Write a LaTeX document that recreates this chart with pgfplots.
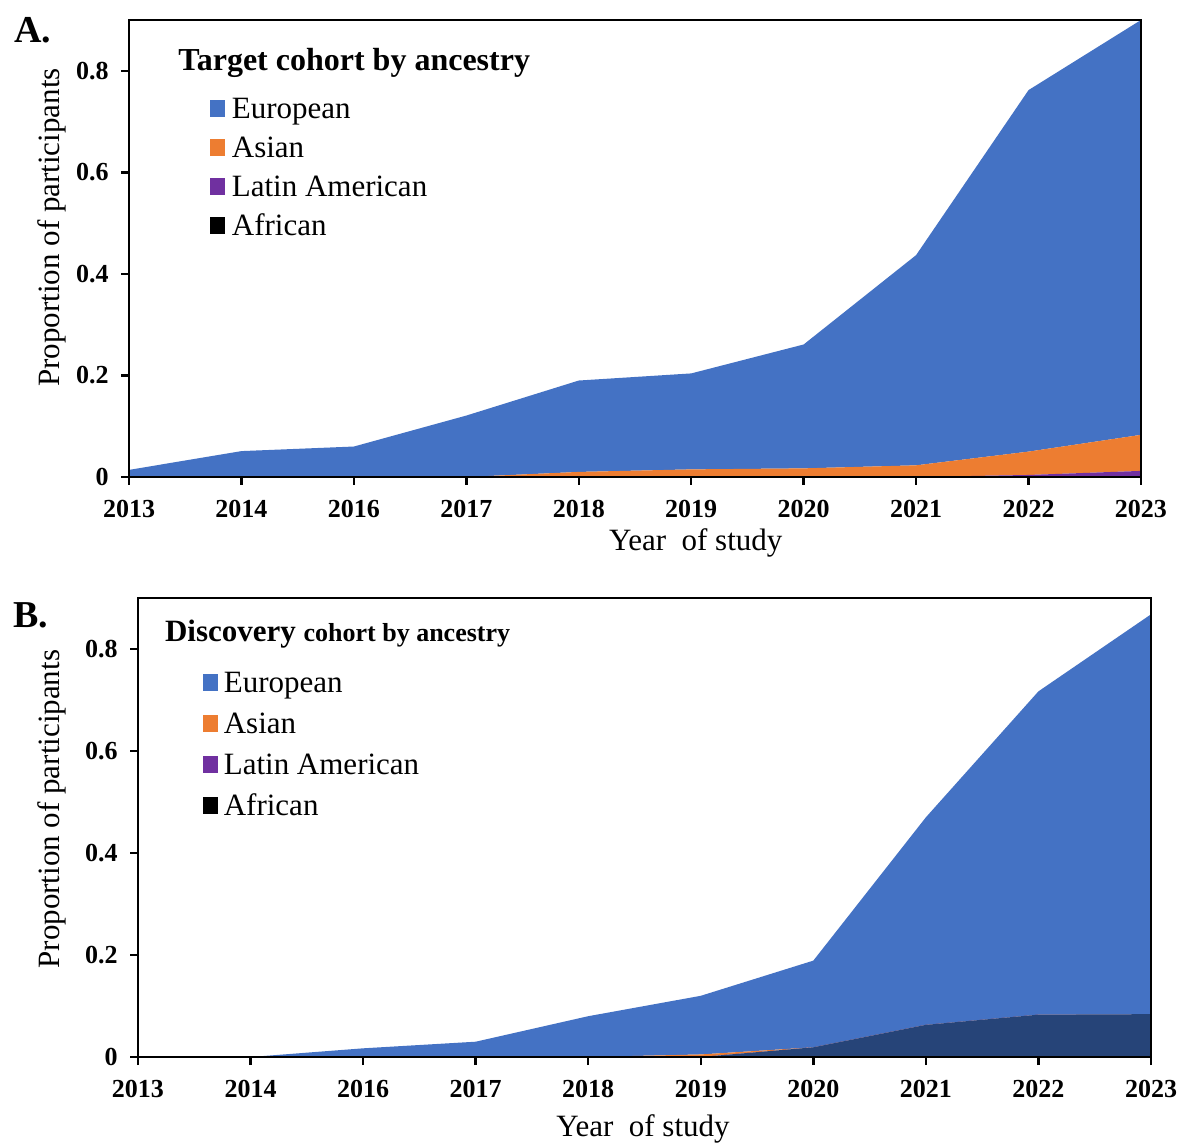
\documentclass[border=0pt]{standalone}
\usepackage{graphicx}
\usepackage{pgfplots}
\pgfplotsset{compat=1.18}
\usepackage{pgfplotstable}
\usepackage{fontspec}
\setmainfont{Liberation Serif}
\definecolor{eur}{HTML}{4472C4}
\definecolor{asi}{HTML}{ED7D31}
\definecolor{lat}{HTML}{7030A0}
\definecolor{afr}{HTML}{000000}
\definecolor{afrB}{HTML}{264478}

% Panel A: target cohort (individual layer values, stacked)
\pgfplotstableread{
x eur asi lat afr
0 0.014 0     0     0
1 0.051 0     0     0
2 0.060 0     0     0
3 0.121 0     0     0
4 0.180 0.010 0     0
5 0.189 0.015 0     0
6 0.244 0.017 0     0
7 0.414 0.023 0     0
8 0.712 0.046 0.004 0
9 0.817 0.071 0.012 0
}\dataA

% Panel B: discovery cohort
\pgfplotstableread{
x eur asi lat afr
0 0     0     0 0
1 0     0     0 0
2 0.017 0     0 0
3 0.030 0     0 0
4 0.080 0     0 0
5 0.115 0.005 0 0
6 0.170 0     0 0.019
7 0.407 0     0 0.063
8 0.634 0     0 0.083
9 0.784 0     0 0.084
}\dataB

\pgfplotsset{
  mystyle/.style={
    scale only axis, xmin=0, xmax=9, ymin=0, ymax=0.9,
    xtick={0,1,2,3,4,5,6,7,8,9},
    xticklabels={2013,2014,2016,2017,2018,2019,2020,2021,2022,2023},
    ytick={0,0.2,0.4,0.6,0.8}, yticklabels={0,0.2,0.4,0.6,0.8},
    tick align=outside, major tick length=4pt, xtick pos=bottom, ytick pos=left,
    axis line style={line width=1.2pt, black},
    every tick/.style={black, line width=1.2pt},
    /pgf/number format/assume math mode=true,
    ticklabel style={font=\fontsize{13}{13}\selectfont\bfseries},
    yticklabel style={xshift=-2.7pt},
    xticklabel style={yshift=-4.2pt},
    label style={font=\fontsize{15.5}{15.5}\selectfont},
    stack plots=y, axis on top,
    legend cell align=left,
    legend image code/.code={\fill[##1] (0pt,-2.4pt) rectangle (7.5pt,5.8pt);},
  }
}

\begin{document}
\begin{tikzpicture}
\path[use as bounding box] (0,0) rectangle (589.5pt,571pt);

% ---------------- Panel A ----------------
\begin{axis}[mystyle,
  at={(64.5pt,332.5pt)}, anchor=south west, width=506pt, height=228.5pt,
  xlabel={Year\ \ of study}, ylabel={Proportion of participants},
  xlabel style={at={(axis description cs:0.560,-0.1116)}, anchor=north, inner sep=0pt},
  ylabel style={at={(axis description cs:-0.076,0.546)}, anchor=center, inner sep=0pt},
  legend style={draw=none, fill=none, at={(axis description cs:0.0805,0.8316)}, anchor=north west,
    inner sep=0pt, outer sep=0pt, row sep=4.5pt, font=\fontsize{15.5}{15.5}\selectfont,
    nodes={inner sep=0pt, text height=11pt, text depth=4pt},
    /tikz/every odd column/.append style={column sep=3.2pt}},
]
\addplot[fill=afr, draw=none, forget plot] table[x=x,y=afr]{\dataA} \closedcycle;
\addplot[fill=lat, draw=none, forget plot] table[x=x,y=lat]{\dataA} \closedcycle;
\addplot[fill=asi, draw=none, forget plot] table[x=x,y=asi]{\dataA} \closedcycle;
\addplot[fill=eur, draw=none, forget plot] table[x=x,y=eur]{\dataA} \closedcycle;
\addlegendimage{fill=eur, draw=none}\addlegendentry{European}
\addlegendimage{fill=asi, draw=none}\addlegendentry{Asian}
\addlegendimage{fill=lat, draw=none}\addlegendentry{Latin American}
\addlegendimage{fill=afr, draw=none}\addlegendentry{African}
\node[anchor=base west, inner sep=0pt, font=\fontsize{16}{16}\selectfont\bfseries]
  at (axis description cs:0.0484,0.889) {Target cohort by ancestry};
\end{axis}

% ---------------- Panel B ----------------
\begin{axis}[mystyle,
  at={(69pt,42.5pt)}, anchor=south west, width=506.5pt, height=229.5pt,
  xlabel={Year\ \ of study}, ylabel={Proportion of participants},
  xlabel style={at={(axis description cs:0.4985,-0.124)}, anchor=north, inner sep=0pt},
  ylabel style={at={(axis description cs:-0.085,0.540)}, anchor=center, inner sep=0pt},
  legend style={draw=none, fill=none, at={(axis description cs:0.064,0.841)}, anchor=north west,
    inner sep=0pt, outer sep=0pt, row sep=5.5pt, font=\fontsize{15.5}{15.5}\selectfont,
    nodes={inner sep=0pt, text height=11pt, text depth=4pt},
    /tikz/every odd column/.append style={column sep=3pt}},
]
\addplot[fill=afrB, draw=none, forget plot] table[x=x,y=afr]{\dataB} \closedcycle;
\addplot[fill=lat, draw=none, forget plot] table[x=x,y=lat]{\dataB} \closedcycle;
\addplot[fill=asi, draw=none, forget plot] table[x=x,y=asi]{\dataB} \closedcycle;
\addplot[fill=eur, draw=none, forget plot] table[x=x,y=eur]{\dataB} \closedcycle;
\addlegendimage{fill=eur, draw=none}\addlegendentry{European}
\addlegendimage{fill=asi, draw=none}\addlegendentry{Asian}
\addlegendimage{fill=lat, draw=none}\addlegendentry{Latin American}
\addlegendimage{fill=afr, draw=none}\addlegendentry{African}
\node[anchor=base west, inner sep=0pt]
  at (axis description cs:0.0263,0.906) {\fontsize{15.5}{15.5}\selectfont\bfseries Discovery \fontsize{13}{13}\selectfont cohort by ancestry};
\end{axis}

\node[anchor=base west, inner sep=0pt, font=\fontsize{19}{19}\selectfont\bfseries] at (7pt,549.65pt) {A.};
\node[anchor=base west, inner sep=0pt, font=\fontsize{19}{19}\selectfont\bfseries] at (6.5pt,257pt) {B.};
\end{tikzpicture}
\end{document}
